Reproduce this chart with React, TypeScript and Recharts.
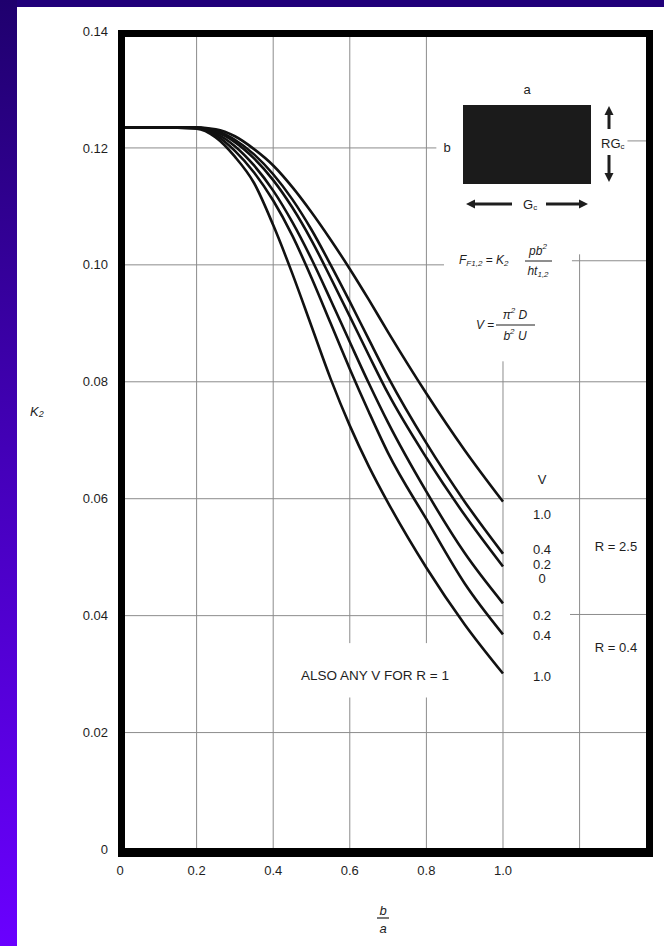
import React from 'react';
import { LineChart, Line, XAxis, YAxis, ReferenceLine } from 'recharts';

// b/a ratio sample points
const ratios = [0, 0.1, 0.2, 0.25, 0.3, 0.35, 0.4, 0.45, 0.5, 0.55, 0.6, 0.65, 0.7, 0.8, 0.9, 1.0];

// K2 curves, R = 2.5
const r25v10 = [0.1235, 0.1235, 0.1235, 0.1232, 0.122, 0.1198, 0.117, 0.1133, 0.109, 0.1043, 0.0993, 0.094, 0.0885, 0.078, 0.0683, 0.0595];
const r25v04 = [0.1235, 0.1235, 0.1235, 0.123, 0.1214, 0.1189, 0.1155, 0.1112, 0.106, 0.1, 0.0937, 0.0872, 0.0808, 0.0695, 0.0595, 0.0506];
const r25v02 = [0.1235, 0.1235, 0.1235, 0.1228, 0.121, 0.1182, 0.1145, 0.1098, 0.1042, 0.0978, 0.0912, 0.0845, 0.078, 0.067, 0.0572, 0.0484];
// R = 0.4
const r04v02 = [0.1235, 0.1235, 0.1235, 0.1225, 0.1203, 0.117, 0.1127, 0.1073, 0.101, 0.094, 0.0868, 0.0797, 0.073, 0.0612, 0.0507, 0.0421];
const r04v04 = [0.1235, 0.1235, 0.1234, 0.1222, 0.1195, 0.1158, 0.111, 0.105, 0.0978, 0.09, 0.0822, 0.0748, 0.0678, 0.0565, 0.0455, 0.0368];
const r04v10 = [0.1235, 0.1235, 0.1233, 0.1218, 0.1185, 0.114, 0.1068, 0.0985, 0.0895, 0.0805, 0.0725, 0.0655, 0.0593, 0.0482, 0.0385, 0.0301];

const seriesKeys = ['r25v10', 'r25v04', 'r25v02', 'r04v02', 'r04v04', 'r04v10'];

const xTicks = [0, 0.2, 0.4, 0.6, 0.8, 1.0];
const yTicks = [0, 0.02, 0.04, 0.06, 0.08, 0.1, 0.12, 0.14];

const X_MAX = 1.3734;
const Y_MAX = 0.14;

// grid pieces (the scanned grid is broken around the labels)
const hGrid = [
  { y: 0.12, from: 0, to: 0.826 },
  { y: 0.1212, from: 1.325, to: X_MAX },
  { y: 0.1, from: 0, to: 0.846 },
  { y: 0.1007, from: 1.18, to: X_MAX },
  { y: 0.08, from: 0, to: X_MAX },
  { y: 0.06, from: 0, to: X_MAX },
  { y: 0.04, from: 0, to: 1.0 },
  { y: 0.0402, from: 1.175, to: X_MAX },
  { y: 0.02, from: 0, to: X_MAX },
];
const vGrid = [
  { x: 0.2, from: 0, to: Y_MAX },
  { x: 0.4, from: 0, to: Y_MAX },
  { x: 0.6, from: 0, to: 0.026 },
  { x: 0.6, from: 0.0353, to: Y_MAX },
  { x: 0.8, from: 0, to: 0.026 },
  { x: 0.8, from: 0.0353, to: Y_MAX },
  { x: 1.0, from: 0, to: 0.0835 },
  { x: 1.2, from: 0, to: 0.1018 },
];

const vLabels = ['1.0', '0.4', '0.2', '0', '0.2', '0.4', '1.0'];

const data = ratios.map((x, i) => ({
  x,
  r25v10: r25v10[i],
  r25v04: r25v04[i],
  r25v02: r25v02[i],
  r04v02: r04v02[i],
  r04v04: r04v04[i],
  r04v10: r04v10[i],
}));

const font = '"Liberation Sans", Arial, Helvetica, sans-serif';
const ink = '#1e1e1e';
const gridColor = '#8c8c8c';

function Arrow({ x1, y1, x2, y2 }: { x1: number; y1: number; x2: number; y2: number }) {
  const ang = Math.atan2(y2 - y1, x2 - x1);
  const len = 9;
  const w = 4.5;
  const bx = x2 - len * Math.cos(ang);
  const by = y2 - len * Math.sin(ang);
  const px = -Math.sin(ang) * w;
  const py = Math.cos(ang) * w;
  return (
    <g>
      <line x1={x1} y1={y1} x2={bx} y2={by} stroke={ink} strokeWidth={3} />
      <polygon points={`${x2},${y2} ${bx + px},${by + py} ${bx - px},${by - py}`} fill={ink} />
    </g>
  );
}

function Notes() {
  const t = { fontFamily: font, fill: ink, fontSize: 13, dominantBaseline: 'central' as const };
  const labelYs = [514, 549, 564, 578, 615, 635, 676];
  return (
    <svg width={664} height={946} style={{ position: 'absolute', left: 0, top: 0, pointerEvents: 'none' }}>
      {/* heavy frame */}
      <rect x={121.5} y={33.5} width={528} height={819} fill="none" stroke="#000" strokeWidth={7} />
      <line x1={118} x2={653} y1={852.5} y2={852.5} stroke="#000" strokeWidth={9} />

      {/* axis titles */}
      <text x={30} y={411} {...t} fontStyle="italic">
        K<tspan fontSize={9} dy={3}>2</tspan>
      </text>
      <text x={383} y={910} {...t} fontStyle="italic" textAnchor="middle">b</text>
      <line x1={377} x2={389} y1={918} y2={918} stroke={ink} strokeWidth={1.2} />
      <text x={383} y={928} {...t} fontStyle="italic" textAnchor="middle">a</text>

      {/* panel sketch */}
      <text x={527} y={89} {...t} textAnchor="middle">a</text>
      <rect x={463} y={105} width={128} height={79} fill="#1b1b1b" />
      <text x={447} y={147} {...t} textAnchor="middle">b</text>
      <Arrow x1={609} y1={129} x2={609} y2={106} />
      <Arrow x1={609} y1={155} x2={609} y2={182} />
      <text x={601} y={143} {...t}>
        RG<tspan fontSize={8} dy={3}>c</tspan>
      </text>
      <Arrow x1={512} y1={204} x2={466} y2={204} />
      <Arrow x1={546} y1={204} x2={588} y2={204} />
      <text x={523} y={204} {...t}>
        G<tspan fontSize={8} dy={3}>c</tspan>
      </text>

      {/* formulas */}
      <text x={459} y={260} {...t} fontSize={12} fontStyle="italic">
        F<tspan fontSize={8} dy={3}>F1,2</tspan>
        <tspan dy={-3} fontStyle="normal"> = </tspan>K<tspan fontSize={8} dy={3}>2</tspan>
      </text>
      <text x={538} y={251} {...t} fontSize={12} fontStyle="italic" textAnchor="middle">
        pb<tspan fontSize={8} dy={-5}>2</tspan>
      </text>
      <line x1={525} x2={552} y1={261} y2={261} stroke={ink} strokeWidth={1} />
      <text x={538} y={271} {...t} fontSize={12} fontStyle="italic" textAnchor="middle">
        ht<tspan fontSize={8} dy={3}>1,2</tspan>
      </text>

      <text x={476} y={325} {...t} fontSize={12} fontStyle="italic">
        V<tspan fontStyle="normal"> =</tspan>
      </text>
      <text x={515} y={315} {...t} fontSize={12} fontStyle="italic" textAnchor="middle">
        π<tspan fontSize={8} dy={-5}>2</tspan>
        <tspan dy={5}> D</tspan>
      </text>
      <line x1={496} x2={535} y1={325} y2={325} stroke={ink} strokeWidth={1} />
      <text x={515} y={336} {...t} fontSize={12} fontStyle="italic" textAnchor="middle">
        b<tspan fontSize={8} dy={-5}>2</tspan>
        <tspan dy={5}> U</tspan>
      </text>

      {/* curve labels */}
      <text x={542} y={479} {...t} textAnchor="middle">V</text>
      {vLabels.map((s, i) => (
        <text key={i} x={542} y={labelYs[i]} {...t} textAnchor="middle">
          {s}
        </text>
      ))}
      <text x={616} y={546} {...t} textAnchor="middle">R = 2.5</text>
      <text x={616} y={647} {...t} textAnchor="middle">R = 0.4</text>
      <text x={449} y={675} {...t} fontSize={13.5} textAnchor="end">ALSO ANY V FOR R = 1</text>
    </svg>
  );
}

export default function App() {
  return (
    <div style={{ position: 'absolute', left: 0, top: 0, width: 664, height: 946, background: '#fff', overflow: 'hidden' }}>
      <div style={{ position: 'absolute', left: 0, top: 0, width: 664, height: 7, background: '#21007a' }} />
      <div
        style={{
          position: 'absolute',
          left: 0,
          top: 0,
          width: 17,
          height: 946,
          background: 'linear-gradient(to bottom, #1f006e, #4500bb 50%, #6a00ff)',
        }}
      />
      <div style={{ position: 'absolute', left: 0, top: 0 }}>
        <LineChart width={664} height={946} data={data} margin={{ top: 31, right: 18, bottom: 66.5, left: 60 }}>
          <XAxis
            type="number"
            dataKey="x"
            domain={[0, X_MAX]}
            ticks={xTicks}
            allowDataOverflow
            tickFormatter={(v: number) => (v === 0 ? '0' : v.toFixed(1))}
            axisLine={false}
            tickLine={false}
            tickSize={0}
            tickMargin={16}
            height={30}
            tick={{ fontSize: 13, fill: ink, fontFamily: font }}
          />
          <YAxis
            type="number"
            domain={[0, Y_MAX]}
            ticks={yTicks}
            allowDataOverflow
            tickFormatter={(v: number) => (v === 0 ? '0' : v.toFixed(2))}
            axisLine={false}
            tickLine={false}
            tickSize={0}
            tickMargin={12}
            width={60}
            tick={{ fontSize: 13, fill: ink, fontFamily: font }}
          />
          {hGrid.map((g, i) => (
            <ReferenceLine
              key={'h' + i}
              segment={[{ x: g.from, y: g.y }, { x: g.to, y: g.y }]}
              stroke={gridColor}
              strokeWidth={1}
              ifOverflow="visible"
            />
          ))}
          {vGrid.map((g, i) => (
            <ReferenceLine
              key={'v' + i}
              segment={[{ x: g.x, y: g.from }, { x: g.x, y: g.to }]}
              stroke={gridColor}
              strokeWidth={1}
              ifOverflow="visible"
            />
          ))}
          {seriesKeys.map((k) => (
            <Line
              key={k}
              type="monotone"
              dataKey={k}
              stroke="#111"
              strokeWidth={2.6}
              dot={false}
              isAnimationActive={false}
            />
          ))}
        </LineChart>
      </div>
      <Notes />
    </div>
  );
}
